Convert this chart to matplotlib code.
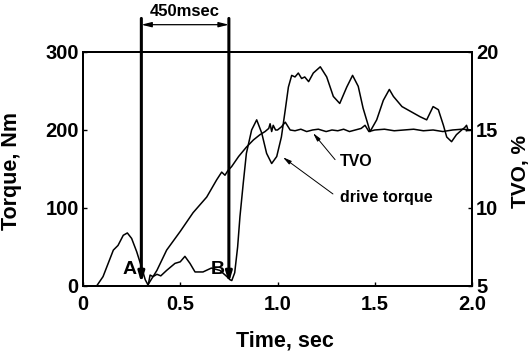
import matplotlib.pyplot as plt

plt.rcParams['font.family'] = ['Liberation Sans', 'DejaVu Sans']
plt.rcParams['font.weight'] = 'bold'

# drive torque (Nm)
torque_t = [0, 0.07, 0.103, 0.156, 0.18, 0.207, 0.228, 0.25, 0.276, 0.30, 0.32, 0.335,
            0.345, 0.36, 0.38, 0.40, 0.43, 0.473, 0.50, 0.524, 0.55, 0.576, 0.617, 0.66,
            0.704, 0.74, 0.756, 0.765, 0.78, 0.795, 0.807, 0.824, 0.84, 0.867, 0.893,
            0.919, 0.944, 0.97, 0.996, 1.02, 1.04, 1.056, 1.073, 1.09, 1.107, 1.124, 1.14,
            1.16, 1.184, 1.22, 1.253, 1.287, 1.32, 1.356, 1.386, 1.415, 1.44, 1.476, 1.51,
            1.544, 1.575, 1.596, 1.64, 1.69, 1.733, 1.767, 1.80, 1.827, 1.853, 1.87, 1.895,
            1.92, 1.947, 1.962, 1.972, 1.978, 1.97, 2.0]
torque_v = [0, 0, 12, 46, 52, 65, 68, 61, 44, 25, 8, 1,
            14, 12, 15, 13, 20, 29, 31, 38, 29, 18, 18, 23,
            20, 12, 8, 7, 17, 50, 89, 132, 170, 200, 213,
            196, 170, 157, 166, 191, 226, 255, 270, 268, 273, 266, 268,
            262, 273, 281, 268, 243, 234, 255, 270, 256, 228, 198, 213,
            238, 252, 243, 230, 223, 217, 213, 230, 226, 206, 191, 185,
            194, 200, 203, 206, 201, 199, 200]

# throttle valve opening (%)
tvo_t = [0, 0.33, 0.35, 0.38, 0.43, 0.50, 0.566, 0.636, 0.687, 0.713, 0.73, 0.745,
         0.764, 0.80, 0.84, 0.876, 0.91, 0.936, 0.955, 0.962, 0.97, 0.978, 0.99, 1.0,
         1.02, 1.04, 1.065, 1.09, 1.12, 1.15, 1.18, 1.21, 1.25, 1.28, 1.31, 1.34, 1.37,
         1.40, 1.43, 1.45, 1.47, 1.50, 1.55, 1.60, 1.65, 1.70, 1.75, 1.80, 1.85, 1.90,
         1.95, 2.0]
tvo_v = [5, 5, 5.4, 6.0, 7.3, 8.5, 9.7, 10.7, 11.8, 12.3, 12.1, 12.4,
         12.65, 13.3, 13.9, 14.36, 14.7, 14.9, 15.1, 15.4, 14.9, 15.3, 15.0, 15.0,
         15.2, 15.5, 15.0, 14.95, 15.05, 14.9, 15.0, 15.05, 14.9, 15.0, 14.95, 15.05, 14.9,
         15.0, 15.1, 15.3, 14.9, 15.0, 15.05, 14.95, 15.0, 15.05, 14.95, 15.0, 14.9, 15.0,
         15.05, 15.0]

t_a = 0.30
t_b = 0.75

fig = plt.figure(figsize=(5.31, 3.51), dpi=100)
ax = fig.add_axes([0.1563, 0.1852, 0.7326, 0.6667])
ax2 = ax.twinx()

ax.plot(torque_t, torque_v, color='black', lw=1.1)
ax2.plot(tvo_t, tvo_v, color='black', lw=1.1)

ax.set_xlim(0, 2.0)
ax.set_ylim(0, 300)
ax2.set_ylim(5, 20)
ax.set_xticks([0, 0.5, 1.0, 1.5, 2.0])
ax.set_xticklabels(['0', '0.5', '1.0', '1.5', '2.0'])
ax.set_yticks([0, 100, 200, 300])
ax2.set_yticks([5, 10, 15, 20])

for a in (ax, ax2):
    a.tick_params(direction='in', length=3, width=1, labelsize=14.5, pad=3)
    for s in a.spines.values():
        s.set_linewidth(1.4)
ax.tick_params(axis='x', pad=6.5)

ax.set_xlabel('Time, sec', fontsize=15.5, fontweight='bold')
ax.set_ylabel('Torque, Nm', fontsize=15.5, fontweight='bold')
ax2.set_ylabel('TVO, %', fontsize=15, fontweight='bold')
ax.xaxis.set_label_coords(0.52, -0.192)
ax.yaxis.set_label_coords(-0.157, 0.49)
ax2.yaxis.set_label_coords(1.1, 0.49)

# A / B markers
for tm, lab in ((t_a, 'A'), (t_b, 'B')):
    ax.annotate('', xy=(tm, 4), xytext=(tm, 343), annotation_clip=False,
                arrowprops=dict(arrowstyle='-|>,head_length=0.6,head_width=0.18',
                                color='black', lw=2.2, shrinkA=0, shrinkB=0))
    ax.text(tm - 0.058, 21, lab, fontsize=14, fontweight='bold', ha='center', va='center')

ax.annotate('', xy=(t_a, 335), xytext=(t_b, 335), annotation_clip=False,
            arrowprops=dict(arrowstyle='<|-|>,head_length=0.6,head_width=0.15',
                            color='black', lw=0.9, shrinkA=0, shrinkB=0))
ax.text((t_a + t_b) / 2, 352, '450msec', fontsize=12, fontweight='bold',
        ha='center', va='center', clip_on=False)

# curve labels
ax.annotate('', xy=(1.183, 196), xytext=(1.296, 162),
            arrowprops=dict(arrowstyle='-|>,head_length=0.5,head_width=0.12',
                            color='black', lw=0.7, shrinkA=0, shrinkB=0))
ax.text(1.321, 159, 'TVO', fontsize=11.5, fontweight='bold', va='center')
ax.annotate('', xy=(1.028, 165), xytext=(1.285, 118),
            arrowprops=dict(arrowstyle='-|>,head_length=0.5,head_width=0.12',
                            color='black', lw=0.7, shrinkA=0, shrinkB=0))
ax.text(1.321, 114, 'drive torque', fontsize=11.5, fontweight='bold', va='center')

fig.savefig('out.png', dpi=100)
